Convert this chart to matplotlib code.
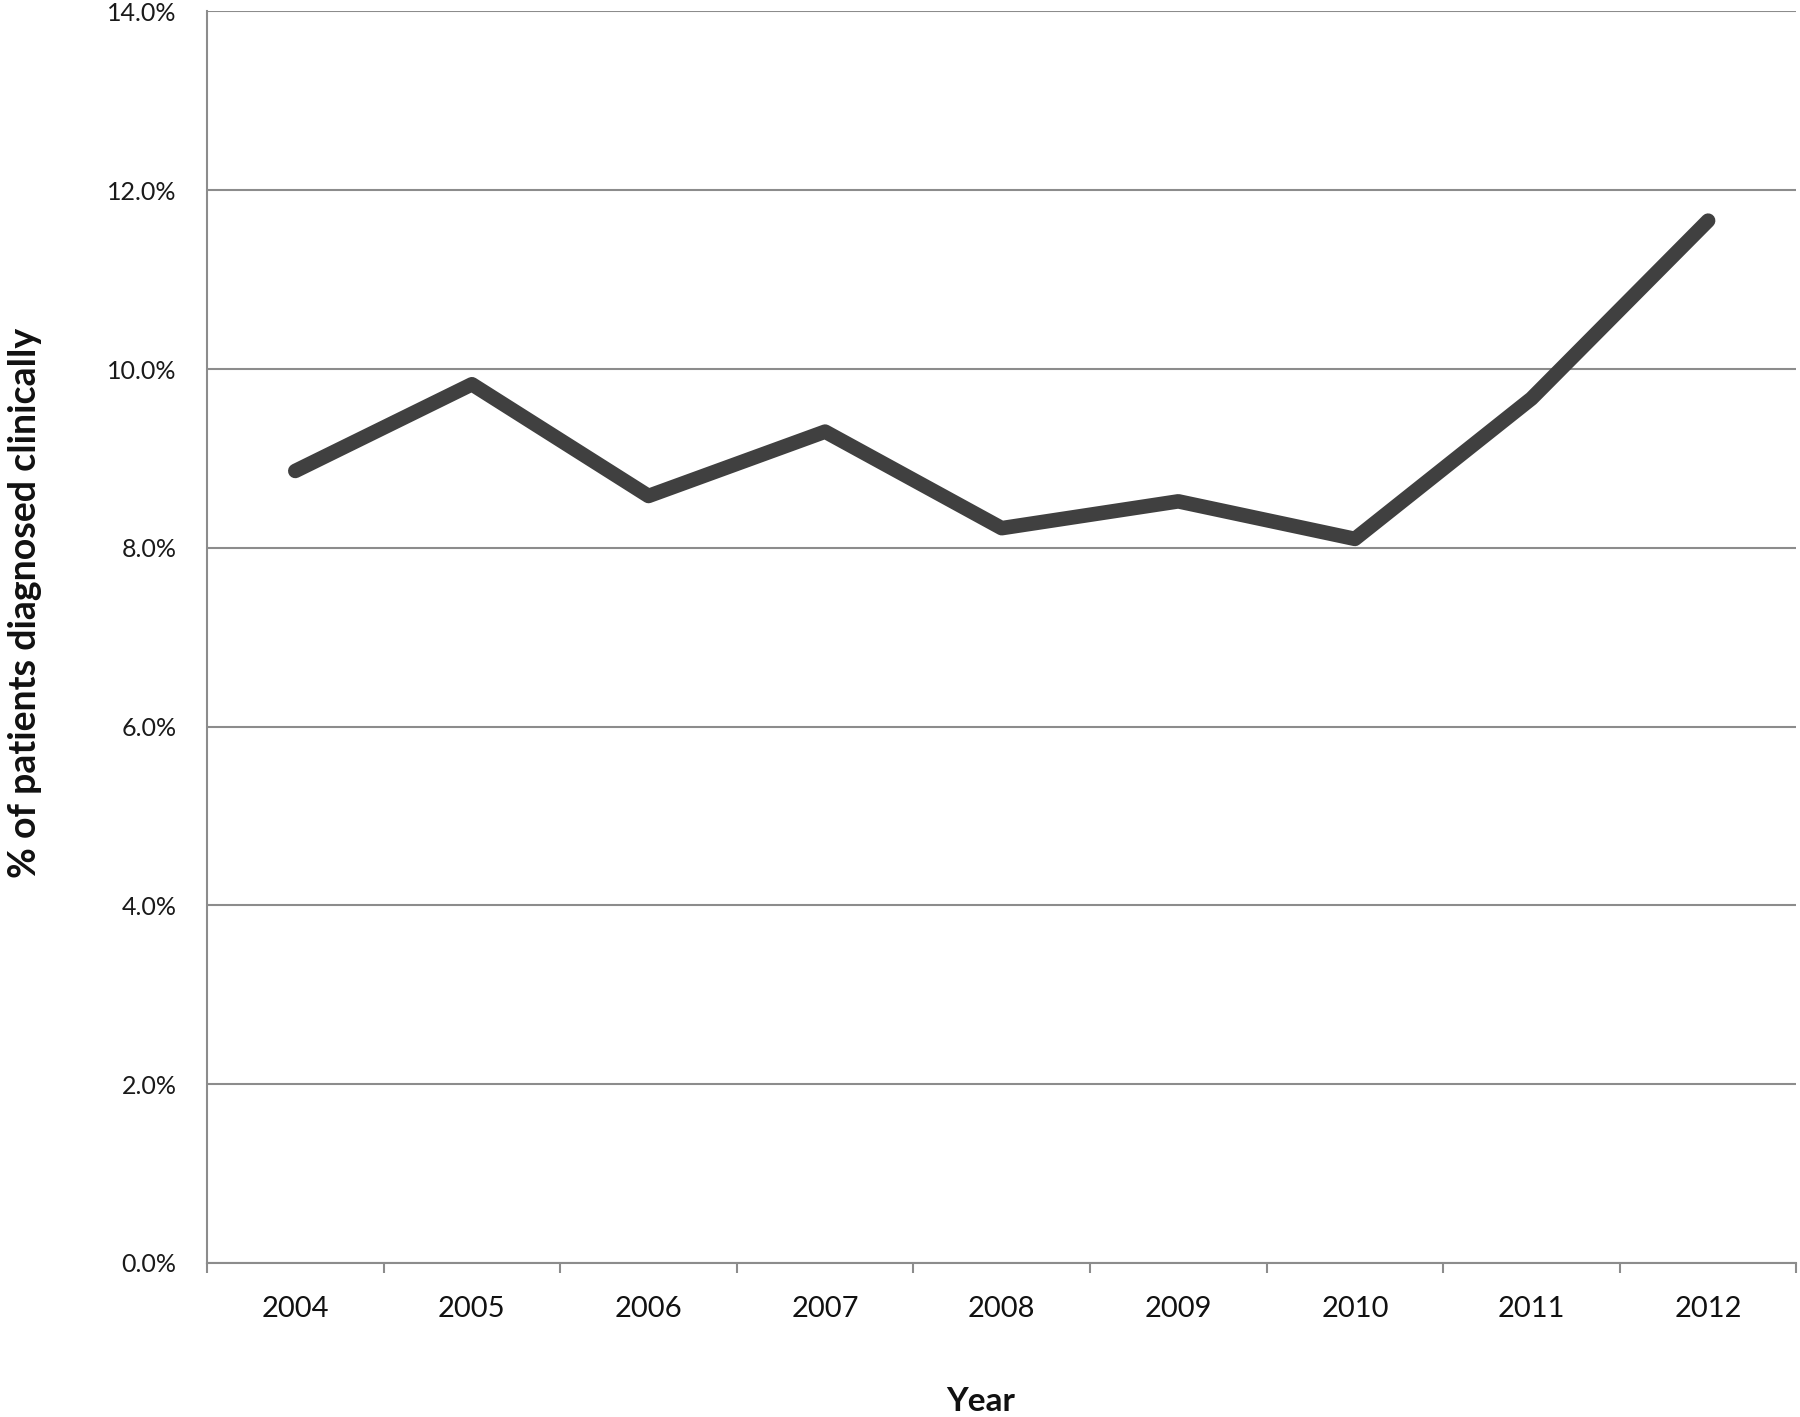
import matplotlib.pyplot as plt
from matplotlib.ticker import FixedLocator, PercentFormatter

years = ["2004", "2005", "2006", "2007", "2008", "2009", "2010", "2011", "2012"]
pct_clinical = [8.86, 9.83, 8.58, 9.30, 8.22, 8.52, 8.10, 9.67, 11.66]
y_ticks = [0, 2, 4, 6, 8, 10, 12, 14]

plt.rcParams['font.family'] = ['Lato', 'DejaVu Sans']

grid_col = "#8c8c8c"
line_col = "#404040"

fig = plt.figure(figsize=(18, 14.17), dpi=100)
ax = fig.add_axes([0.115, 0.1087, 0.883, 0.8832])

x = list(range(len(years)))
ax.plot(x, pct_clinical, color=line_col, linewidth=10.5,
        solid_capstyle="round", solid_joinstyle="round", zorder=3)

ax.set_xlim(-0.5, len(years) - 0.5)
ax.set_ylim(0, 14)

# horizontal gridlines
ax.set_yticks(y_ticks)
ax.yaxis.set_major_formatter(PercentFormatter(decimals=1))
ax.grid(axis="y", color=grid_col, linewidth=1.5)
ax.tick_params(axis="y", length=0, pad=22, labelsize=18, labelcolor="#1a1a1a")

# category labels at centres, tick marks between categories
ax.set_xticks(x)
ax.set_xticklabels(years)
ax.tick_params(axis="x", which="major", length=0, pad=24, labelsize=21,
               labelcolor="#111111")
ax.xaxis.set_minor_locator(FixedLocator([i - 0.5 for i in range(len(years) + 1)]))
ax.tick_params(axis="x", which="minor", length=7, width=1.5, color=grid_col)

for s in ["top", "right"]:
    ax.spines[s].set_visible(False)
for s in ["left", "bottom"]:
    ax.spines[s].set_color(grid_col)
    ax.spines[s].set_linewidth(1.5)

ax.set_ylabel("% of patients diagnosed clinically", fontsize=27,
              fontweight="bold", color="#111111")
ax.yaxis.set_label_coords(-0.104, 0.527)
ax.set_xlabel("Year", fontsize=24, fontweight="bold", color="#111111")
ax.xaxis.set_label_coords(0.487, -0.099)

fig.savefig("out.png", dpi=100)
